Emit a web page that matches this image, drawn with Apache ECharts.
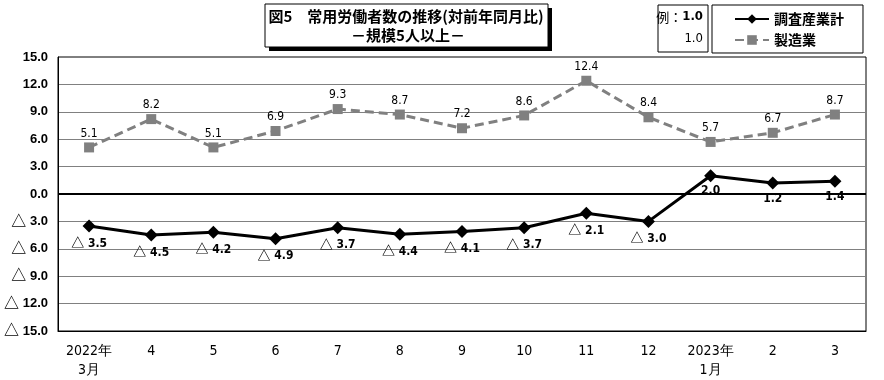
<!DOCTYPE html>
<html><head><meta charset="utf-8">
<script src="https://cdn.jsdelivr.net/npm/echarts@6/dist/echarts.min.js"></script>
<style>html,body{margin:0;padding:0;background:#fff}#c{width:884px;height:380px}</style>
</head><body><div id="c"></div>
<script>
var categories = ["2022年\n3月","4","5","6","7","8","9","10","11","12","2023年\n1月","2","3"];
var totalValues = [-3.5,-4.5,-4.2,-4.9,-3.7,-4.4,-4.1,-3.7,-2.1,-3.0,2.0,1.2,1.4];
var mfgValues = [5.1,8.2,5.1,6.9,9.3,8.7,7.2,8.6,12.4,8.4,5.7,6.7,8.7];
var seriesNames = ["調査産業計","製造業"];
var titleLines = ["図5　常用労働者数の推移(対前年同月比)","－規模5人以上－"];

var NARROW = "'DejaVu Sans Condensed','Liberation Sans Narrow',sans-serif";
var JP = "'Noto Sans CJK JP',sans-serif";
function richFmt(v){ v = Number(v); return v < 0 ? "{t|△}{v| " + Math.abs(v).toFixed(1) + "}" : "{v|" + v.toFixed(1) + "}"; }

var chart = echarts.init(document.getElementById('c'), null, {renderer:'canvas'});
chart.setOption({
  animation:false,
  backgroundColor:'#fff',
  grid:{left:58,right:18,top:57,bottom:49,show:true,borderColor:'#000',borderWidth:1,containLabel:false},
  legend:{
    orient:'vertical', left:712, top:5,
    padding:[7,19,6,22], itemGap:7, itemWidth:34, itemHeight:12,
    borderColor:'#000', borderWidth:1, backgroundColor:'#fff',
    textStyle:{fontFamily:JP,fontWeight:'bold',fontSize:14,color:'#000'},
    data:seriesNames
  },
  xAxis:{
    type:'category', data:categories, boundaryGap:true,
    axisLine:{onZero:false,lineStyle:{color:'#000',width:1}},
    axisTick:{show:false},
    axisLabel:{color:'#000',fontFamily:NARROW,fontSize:14,lineHeight:19,margin:11,interval:0}
  },
  yAxis:{
    type:'value', min:-15, max:15, interval:3,
    axisLine:{show:true,lineStyle:{color:'#000',width:1}},
    axisTick:{show:false},
    splitLine:{show:true,showMinLine:false,showMaxLine:false,lineStyle:{color:'#808080',width:1}},
    axisLabel:{color:'#000',margin:10,formatter:richFmt,
      rich:{t:{fontFamily:JP,fontSize:15,fontWeight:'bold',color:'#000',verticalAlign:'middle',padding:[0,0,3,0]},
            v:{fontFamily:"'Liberation Sans',Arial,sans-serif",fontWeight:'bold',fontSize:13,color:'#000',verticalAlign:'middle'}}}
  },
  graphic:[
    {type:'rect',shape:{x:269,y:8,width:283,height:43},style:{fill:'#000'},z:100},
    {type:'rect',shape:{x:265,y:4,width:283,height:43},style:{fill:'#fff',stroke:'#000',lineWidth:1},z:101},
    {type:'text',x:406,y:16,style:{text:titleLines[0],fill:'#000',font:"bold 15px "+JP,align:'center',verticalAlign:'middle'},z:102},
    {type:'text',x:408,y:35,style:{text:titleLines[1],fill:'#000',font:"bold 15px "+JP,align:'center',verticalAlign:'middle'},z:102},
    {type:'rect',shape:{x:658,y:5,width:50,height:47},style:{fill:'#fff',stroke:'#000',lineWidth:1},z:100},
    {type:'text',x:703,y:17,style:{text:'{n|例：}{b|1.0}',rich:{n:{font:"13px "+JP,fill:'#000'},b:{font:"bold 13px "+NARROW,fill:'#000'}},align:'right',verticalAlign:'middle'},z:101},
    {type:'text',x:703,y:39,style:{text:'1.0',fill:'#000',font:"13px "+NARROW,align:'right',verticalAlign:'middle'},z:101}
  ],
  series:[
    {
      name:seriesNames[0], type:'line', data:totalValues, z:5,
      symbol:'diamond', symbolSize:13,
      lineStyle:{color:'#000',width:3}, itemStyle:{color:'#000'},
      label:{show:true,position:'bottom',distance:3,color:'#000',formatter:function(p){return richFmt(p.value);},
        rich:{t:{fontFamily:JP,fontSize:13,fontWeight:'bold',color:'#000',verticalAlign:'middle',padding:[0,0,3,0]},
              v:{fontFamily:NARROW,fontWeight:'bold',fontSize:12,color:'#000',verticalAlign:'middle'}}},
      markLine:{silent:true,symbol:'none',label:{show:false},lineStyle:{color:'#000',width:2,type:'solid'},data:[{yAxis:0}]}
    },
    {
      name:seriesNames[1], type:'line', data:mfgValues, z:4,
      symbol:'rect', symbolSize:10,
      lineStyle:{color:'#808080',width:3,type:[9,5]}, itemStyle:{color:'#808080'},
      label:{show:true,position:'top',distance:3,color:'#000',fontFamily:NARROW,fontSize:12,formatter:function(p){return Number(p.value).toFixed(1);}}
    }
  ]
});
</script></body></html>
